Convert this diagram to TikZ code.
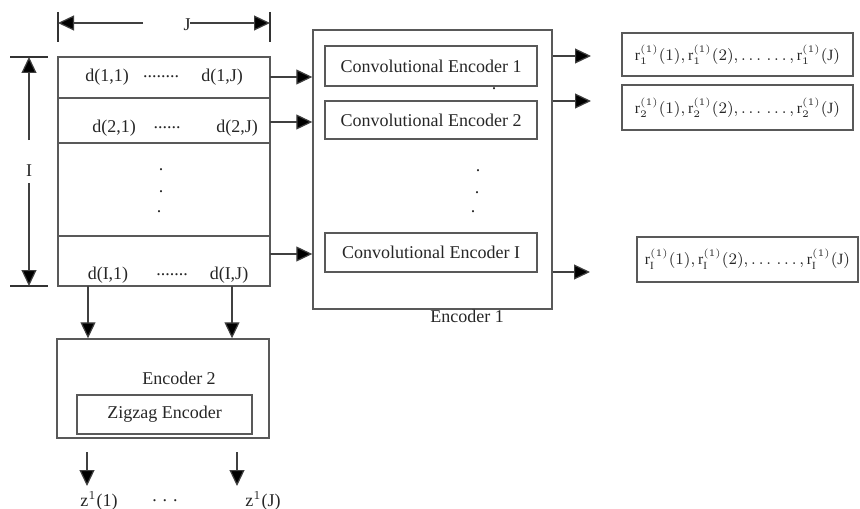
\documentclass[tikz,border=0pt]{standalone}
\usepackage{fontspec}
\setmainfont{Liberation Serif}
\usetikzlibrary{arrows.meta}
\begin{document}
\begin{tikzpicture}[x=0.5pt,y=-0.5pt,
  box/.style={draw=black!65, line width=0.7pt, inner sep=0, rectangle},
  arr/.style={-{Triangle[length=8pt,width=7.5pt,fill=black]}, draw=black!75, line width=0.6pt},
  dim/.style={draw=black!80, line width=0.6pt},
  txt/.style={font=\fontsize{9}{10}\selectfont, text=black!85, inner sep=0},
  rtxt/.style={font=\fontsize{7.8}{9}\selectfont, text=black!85, inner sep=0}]
\useasboundingbox (0,0) rectangle (860,508);

% dimension J
\coordinate (jl1) at (58,12); \coordinate (jl2) at (58,42);
\coordinate (jr1) at (270,12); \coordinate (jr2) at (270,42);
\draw[dim] (jl1) -- (jl2);
\draw[dim] (jr1) -- (jr2);
\node[txt] (jlab) at (187,25) {J};
\coordinate (ja) at (143,23); \coordinate (jb) at (190,23);
\draw[arr] (ja) -- (jl1 |- ja);
\draw[arr] (jb) -- (jr1 |- jb);

% dimension I
\coordinate (it1) at (10,57); \coordinate (it2) at (48,57);
\coordinate (ib1) at (10,286); \coordinate (ib2) at (48,286);
\draw[dim] (it1) -- (it2);
\draw[dim] (ib1) -- (ib2);
\node[txt] (ilab) at (29,171) {I};
\coordinate (ia) at (29,140); \coordinate (ib) at (29,183);
\draw[arr] (ia) -- (ia |- it1);
\draw[arr] (ib) -- (ib |- ib1);

% matrix rows
\node[box, minimum width=106pt, minimum height=20.5pt] (row1) at (164,77.5) {};
\node[box, minimum width=106pt, minimum height=22.5pt] (row2) at (164,120.5) {};
\node[box, minimum width=106pt, minimum height=46.5pt] (rowm) at (164,189.5) {};
\node[box, minimum width=106pt, minimum height=25pt] (rowI) at (164,261) {};

\node[txt] (d11) at (107,77) {d(1,1)};
\node[txt] (d1d) at (161,77) {........};
\node[txt] (d1J) at (222,77) {d(1,J)};
\node[txt] (d21) at (114,128) {d(2,1)};
\node[txt] (d2d) at (167,128) {......};
\node[txt] (d2J) at (237,128) {d(2,J)};
\node[txt] (m1) at (161,170) {.};
\node[txt] (m2) at (161,192) {.};
\node[txt] (m3) at (159,212) {.};
\node[txt] (dI1) at (108,275) {d(I,1)};
\node[txt] (dId) at (172,275) {.......};
\node[txt] (dIJ) at (229,275) {d(I,J)};

% Encoder 1
\node[box, minimum width=119.5pt, minimum height=139.5pt] (enc1) at (432.5,169.5) {};
\node[box, minimum width=106pt, minimum height=20pt] (ce1) at (431,66) {};
\node[txt] at (ce1) {Convolutional Encoder 1};
\node[box, minimum width=106pt, minimum height=19pt] (ce2) at (431,120) {};
\node[txt] at (ce2) {Convolutional Encoder 2};
\node[box, minimum width=106pt, minimum height=19.5pt] (ceI) at (431,252.5) {};
\node[txt] at (ceI) {Convolutional Encoder I};
\node[txt] (e1d0) at (494,89) {.};
\node[txt] (e1d1) at (478,171) {.};
\node[txt] (e1d2) at (477,193) {.};
\node[txt] (e1d3) at (473,212) {.};
\node[txt] (enc1lab) at (467,316) {Encoder 1};

% arrows rows -> encoder 1
\coordinate (a1) at (270,77); \coordinate (a2) at (270,122); \coordinate (a3) at (270,254);
\draw[arr] (a1) -- (a1 -| enc1.west);
\draw[arr] (a2) -- (a2 -| enc1.west);
\draw[arr] (a3) -- (a3 -| enc1.west);

% outputs
\node[box, minimum width=115.5pt, minimum height=21.5pt] (out1) at (737.5,54.5) {};
\node[rtxt] at (out1) {$\mathrm{r}_1^{(1)}(1), \mathrm{r}_1^{(1)}(2), \ldots\,\ldots, \mathrm{r}_1^{(1)}(\mathrm{J})$};
\node[box, minimum width=115.5pt, minimum height=22.5pt] (out2) at (737.5,107.5) {};
\node[rtxt] at (out2) {$\mathrm{r}_2^{(1)}(1), \mathrm{r}_2^{(1)}(2), \ldots\,\ldots, \mathrm{r}_2^{(1)}(\mathrm{J})$};
\node[box, minimum width=110.5pt, minimum height=22.5pt] (outI) at (747.5,259.5) {};
\node[rtxt] at (outI) {$\mathrm{r}_\mathrm{I}^{(1)}(1), \mathrm{r}_\mathrm{I}^{(1)}(2), \ldots\,\ldots, \mathrm{r}_\mathrm{I}^{(1)}(\mathrm{J})$};

\coordinate (o1) at (552,56); \coordinate (o2) at (552,101); \coordinate (o3) at (552,272);
\coordinate (o1e) at (591,56); \coordinate (o2e) at (591,101); \coordinate (o3e) at (590,272);
\draw[arr] (o1 -| enc1.east) -- (o1e);
\draw[arr] (o2 -| enc1.east) -- (o2e);
\draw[arr] (o3 -| enc1.east) -- (o3e);

% Encoder 2
\node[box, minimum width=106pt, minimum height=49.5pt] (enc2) at (163,388.5) {};
\node[txt] (enc2lab) at (179,378) {Encoder 2};
\node[box, minimum width=87.5pt, minimum height=19.5pt] (zz) at (164.5,414.5) {};
\node[txt] at (zz) {Zigzag Encoder};

\coordinate (b1) at (88,286); \coordinate (b2) at (232,286);
\draw[arr] (b1) -- (b1 |- enc2.north);
\draw[arr] (b2) -- (b2 |- enc2.north);

\coordinate (c1) at (87,452); \coordinate (c1e) at (87,486);
\coordinate (c2) at (237,452); \coordinate (c2e) at (237,486);
\draw[arr] (c1) -- (c1e);
\draw[arr] (c2) -- (c2e);
\node[txt] (z1) at (99,501) {z$^{1}$(1)};
\node[txt] (zd) at (165,501) {. . .};
\node[txt] (zJ) at (263,501) {z$^{1}$(J)};
\end{tikzpicture}
\end{document}
